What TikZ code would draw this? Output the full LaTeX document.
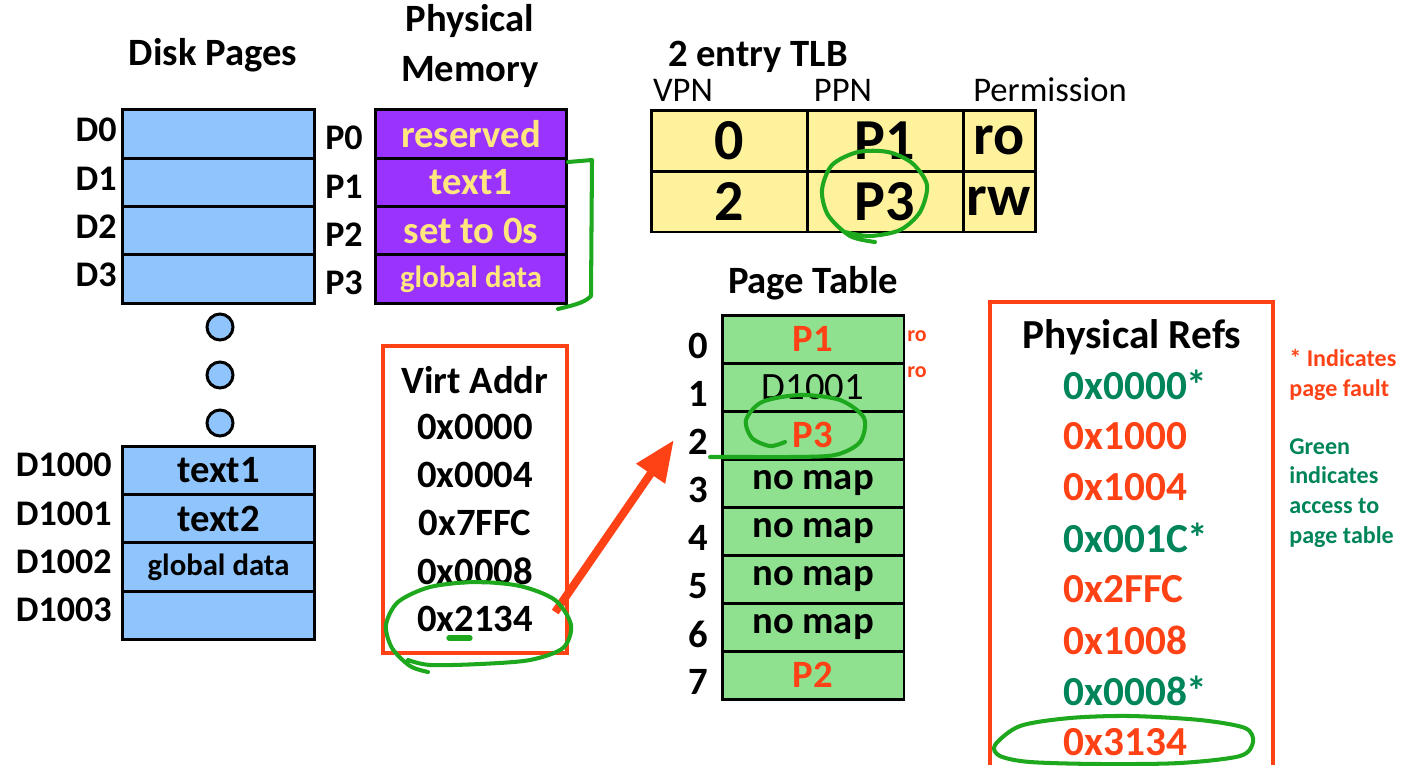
\documentclass[tikz,border=0pt]{standalone}
\usepackage{fontspec}
\setmainfont{Carlito}
\usetikzlibrary{arrows.meta,positioning}
\definecolor{diskblue}{HTML}{8FC5FC}
\definecolor{purp}{HTML}{9B33FF}
\definecolor{gold}{HTML}{FFE67F}
\definecolor{tlbyel}{HTML}{FEF29C}
\definecolor{ptgreen}{HTML}{8FE08F}
\definecolor{hot}{HTML}{FF4216}
\definecolor{deepgr}{HTML}{00845A}
\definecolor{pen}{HTML}{1EA81E}
\tikzset{
  every node/.style={font=\bfseries\fontsize{22}{26}\selectfont,inner sep=0pt},
  cellc/.style={draw=black,line width=1.7pt,minimum height=0.966cm,align=center},
  diskc/.style={cellc,fill=diskblue,minimum width=3.86cm},
  memc/.style={cellc,fill=purp,text=gold,minimum width=3.84cm},
  tlbc/.style={cellc,fill=tlbyel,minimum height=1.22cm,font=\bfseries\fontsize{33}{36}\selectfont},
  ptc/.style={cellc,fill=ptgreen,minimum width=3.64cm,minimum height=0.96cm},
  dotc/.style={circle,draw=black,line width=1.7pt,fill=diskblue,minimum width=0.52cm},
  lbl/.style={font=\bfseries\fontsize{20.5}{24}\selectfont},
  hdr/.style={font=\fontsize{19.7}{22}\selectfont},
  gdata/.style={font=\bfseries\fontsize{17.5}{20}\selectfont},
  refv/.style={anchor=west,font=\bfseries\fontsize{23.5}{27}\selectfont},
  note/.style={anchor=west,align=left,font=\bfseries\fontsize{13.7}{17}\selectfont},
  rframe/.style={draw=hot,line width=1.9pt},
  ink/.style={draw=pen,line width=2.3pt,line cap=round,line join=round},
  ar/.style={-{Triangle[length=0.82cm,width=0.66cm]},draw=hot,fill=hot,line width=4.6pt},
}
\begin{document}
\begin{tikzpicture}[x=0.02cm,y=-0.02cm]
\useasboundingbox (0,0) rectangle (1423,765);
\node (diskT) at (213,55) {Disk Pages};
\node[align=center,font=\bfseries\fontsize{22}{28.3}\selectfont] (memT) at (470,46) {Physical\\Memory};
\foreach \i in {0,...,3} {
  \node[diskc] (d\i) at (218.5,134+48.3*\i) {};
  \node[lbl,anchor=east] (dl\i) at (117,130+48.3*\i) {D\i};
  \node[lbl] (pl\i) at (344,138+48.3*\i) {P\i};
}
\node[memc] (m0) at (471,134) {reserved};
\node[memc] (m1) at (471,182.3) {text1};
\node[memc] (m2) at (471,230.6) {set to 0s};
\node[memc,gdata] (m3) at (471,278.9) {global data};
\foreach \i in {0,1,2} \node[dotc] (dot\i) at (220,327+48*\i) {};
\node[diskc] (dk0) at (218.5,470.2) {text1};
\node[diskc] (dk1) at (218.5,518.6) {text2};
\node[diskc,gdata] (dk2) at (218.5,567) {global data};
\node[diskc] (dk3) at (218.5,615.4) {};
\foreach \i in {0,...,3} \node[lbl,anchor=east] (dkl\i) at (112,465+48.4*\i) {D100\i};
\draw[rframe] (383,346) rectangle (567,653);
\node (vaT) at (475,380) {Virt Addr};
\node (va1) at (475,427) {0x0000};
\node (va2) at (475,475) {0x0004};
\node (va3) at (475,523) {0x7FFC};
\node (va4) at (475,571) {0x0008};
\node (va5) at (475,619) {0x2134};
\node (tlbT) at (758,57) {2 entry TLB};
\node[hdr] (hv) at (683,90) {VPN};
\node[hdr] (hp) at (843,90) {PPN};
\node[hdr] (hm) at (1050,90) {Permission};
\node[tlbc,minimum width=3.12cm] (t00) at (729,140.5) {0};
\node[tlbc,minimum width=3.12cm] (t01) at (885,140.5) {P1};
\node[tlbc,minimum width=1.44cm] (t02) at (999,140.5) {ro};
\node[tlbc,minimum width=3.12cm] (t10) at (729,201.5) {2};
\node[tlbc,minimum width=3.12cm] (t11) at (885,201.5) {P3};
\node[tlbc,minimum width=1.44cm] (t12) at (999,201.5) {rw};
\node (ptT) at (813,283) {Page Table};
\foreach \i in {0,...,7} \node (r\i) at (698,346+48*\i) {\i};
\node[ptc,text=hot] (pt0) at (813,339) {P1};
\node[ptc,font=\fontsize{22}{26}\selectfont] (pt1) at (813,387) {D1001};
\node[ptc,text=hot] (pt2) at (813,435) {P3};
\foreach \i in {3,...,6} \node[ptc] (pt\i) at (813,339+48*\i) {no map};
\node[ptc,text=hot] (pt7) at (813,675) {P2};
\node[font=\bfseries\fontsize{12.5}{14}\selectfont,text=hot] (ro0) at (917,336) {ro};
\node[font=\bfseries\fontsize{12.5}{14}\selectfont,text=hot] (ro1) at (917,372) {ro};
\draw[ar] ([shift={(22,-7)}]va5.east) -- ([shift={(-14,-2)}]r2.west);
\draw[rframe] (990,765) |- (1273,302) -- (1273,765);
\node[font=\bfseries\fontsize{23.5}{27}\selectfont] (prT) at (1132,337) {Physical Refs};
\foreach \i/\v/\c in {0/0x0000*/deepgr,1/0x1000/hot,2/0x1004/hot,3/0x001C*/deepgr,
                      4/0x2FFC/hot,5/0x1008/hot,6/0x0008*/deepgr,7/0x3134/hot}
  \node[refv,text=\c] (pr\i) at (1063,385+51*\i) {\v};
\node[note,text=hot] (n1) at (1289,375) {* Indicates\\page fault};
\node[note,text=deepgr] (n2) at (1289,493) {Green\\indicates\\access to\\page table};
\draw[ink] (568,162) -- (592,160) -- (591,296) .. controls (585,303) and (570,306) .. (558,309);
\draw[ink] plot[smooth] coordinates {(875,242) (850,236) (828,215) (822,190) (832,165) (858,152)
  (888,152) (912,163) (927,185) (920,212) (900,230) (870,236) (845,232)};
\draw[ink] plot[smooth] coordinates {(785,442) (770,446) (752,438) (746,420) (762,402) (800,395)
  (840,400) (864,418) (860,442) (835,455) (790,457) (750,457) (710,457)};
\draw[ink] plot[smooth] coordinates {(428,672) (410,666) (392,648) (386,625) (398,602) (430,587)
  (475,582) (520,586) (555,600) (571,625) (563,648) (530,660) (480,664) (430,665) (408,660)};
\draw[ink,line width=3pt] (449,638) -- (470,638);
\draw[ink] plot[smooth cycle] coordinates {(995,745) (1020,726) (1070,718) (1130,716) (1200,720)
  (1245,728) (1253,742) (1240,756) (1180,763) (1100,764) (1030,762) (1000,756)};
\end{tikzpicture}
\end{document}
